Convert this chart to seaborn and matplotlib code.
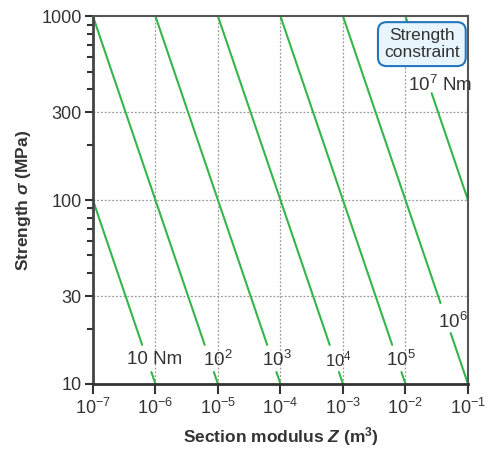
import numpy as np
import pandas as pd
import matplotlib
matplotlib.use("Agg")
import matplotlib.pyplot as plt
from matplotlib.ticker import LogLocator, FixedLocator, NullFormatter, FixedFormatter
import seaborn as sns

# ---- data ----
moments_Nm = [1e1, 1e2, 1e3, 1e4, 1e5, 1e6, 1e7]          # bending moment of each guideline
moment_labels = ["10", "10$^2$", "10$^3$", "10$^4$", "10$^5$", "10$^6$", "10$^7$"]
label_suffix = [" Nm", "", "", "", "", "", " Nm"]
# label gaps along each line (strength range, MPa)
gap_lo = [11.6, 11.6, 11.6, 11.6, 11.6, 18.9, 381]
gap_hi = [16.3, 16.3, 16.3, 16.3, 16.3, 27.5, 562]
x_ticks = [1e-7, 1e-6, 1e-5, 1e-4, 1e-3, 1e-2, 1e-1]
x_tick_labels = ["10$^{-7}$", "10$^{-6}$", "10$^{-5}$", "10$^{-4}$", "10$^{-3}$", "10$^{-2}$", "10$^{-1}$"]
y_ticks = [10, 30, 100, 300, 1000]
y_tick_labels = ["10", "30", "100", "300", "1000"]

ZMIN, ZMAX, SMIN, SMAX = 1e-7, 1e-1, 10, 1000

sns.set_theme(style="white")
plt.rcParams["font.family"] = ["Liberation Sans", "DejaVu Sans"]
plt.rcParams["mathtext.fontset"] = "custom"
plt.rcParams["mathtext.rm"] = "Liberation Sans"
plt.rcParams["mathtext.it"] = "Liberation Sans:italic"
plt.rcParams["mathtext.bf"] = "Liberation Sans:bold"
plt.rcParams["mathtext.bfit"] = "Liberation Sans:bold:italic"
plt.rcParams["mathtext.default"] = "regular"

rows = []
seg = 0
for M, lo, hi in zip(moments_Nm, gap_lo, gap_hi):
    # sigma (MPa) = M / (Z * 1e6)
    for s_top, s_bot in [(SMAX, hi), (lo, SMIN)]:
        z0 = max(M / (s_top * 1e6), ZMIN)
        z1 = min(M / (s_bot * 1e6), ZMAX)
        if z1 <= z0:
            continue
        for z in np.geomspace(z0, z1, 20):
            rows.append({"Z": z, "sigma": M / (z * 1e6), "seg": seg})
        seg += 1
df = pd.DataFrame(rows)

fig = plt.figure(figsize=(4.89, 4.49), dpi=100)
ax = fig.add_axes([0.190, 0.145, 0.767, 0.819])
ax.set_xscale("log")
ax.set_yscale("log")

green = "#35b54a"
sns.lineplot(data=df, x="Z", y="sigma", units="seg", estimator=None,
             color=green, lw=1.5, ax=ax, legend=False)

ax.set_xlim(ZMIN, ZMAX)
ax.set_ylim(SMIN, SMAX)

# grid
for xv in x_ticks[1:-1]:
    ax.axvline(xv, color="#9a9a9a", lw=0.9, ls=(0, (1.5, 1.5)), zorder=0)
for yv in y_ticks[1:-1]:
    ax.axhline(yv, color="#9a9a9a", lw=0.9, ls=(0, (1.5, 1.5)), zorder=0)

ax.xaxis.set_major_locator(FixedLocator(x_ticks))
ax.xaxis.set_major_formatter(FixedFormatter(x_tick_labels))
ax.xaxis.set_minor_locator(LogLocator(base=10, subs=np.arange(2, 10)))
ax.xaxis.set_minor_formatter(NullFormatter())
ax.yaxis.set_major_locator(FixedLocator(y_ticks))
ax.yaxis.set_major_formatter(FixedFormatter(y_tick_labels))
ax.yaxis.set_minor_locator(FixedLocator([20, 40, 50, 60, 70, 80, 90, 200, 400, 500, 600, 700, 800, 900]))
ax.yaxis.set_minor_formatter(NullFormatter())

ax.tick_params(axis="both", which="both", bottom=True, left=True, top=False, right=False)
ax.tick_params(axis="both", which="major", direction="out", length=6, width=1.5,
               color="#333333", labelsize=13, labelcolor="#333333", pad=2)
ax.tick_params(axis="both", which="minor", direction="out", length=4.5, width=1.5, color="#333333")
ax.tick_params(axis="x", which="major", length=7, pad=3)

for side, sp in ax.spines.items():
    sp.set_visible(True)
    sp.set_color("#555555")
    sp.set_linewidth(1.5)
ax.spines["left"].set_linewidth(2)
ax.spines["bottom"].set_linewidth(2)
ax.spines["left"].set_color("#444444")
ax.spines["bottom"].set_color("#333333")

ax.set_xlabel(r"Section modulus $\mathbfit{Z}$ (m$^{\mathbf{3}}$)", fontsize=12.5,
              fontweight="bold", color="#333333", labelpad=5)
ax.set_ylabel(r"Strength $\mathbfit{\sigma}$ (MPa)", fontsize=12.5,
              fontweight="bold", color="#333333", labelpad=6)

# line labels (layout positions in data coords)
label_pos = [(9.8e-7, 13.5), (1.0e-5, 13.5), (8.8e-5, 13.5), (8.3e-4, 13.5),
             (8.5e-3, 13.5), (5.8e-2, 21.7), (3.6e-2, 422)]
label_size = [13.5, 13.5, 13.5, 12, 13.5, 13.5, 13.5]
for lab, suf, (xp, yp), fs in zip(moment_labels, label_suffix, label_pos, label_size):
    ax.text(xp, yp, lab + suf, ha="center", va="center", fontsize=fs, color="#333333")

# annotation box
ax.text(0.877, 0.924, "Strength\nconstraint", transform=ax.transAxes, ha="center", va="center",
        fontsize=12.5, color="#333333", linespacing=1.15,
        bbox=dict(boxstyle="round,pad=0.35,rounding_size=0.5", fc="#e9f5fc", ec="#2477bd", lw=1.5))

fig.savefig("out.png", dpi=100)
